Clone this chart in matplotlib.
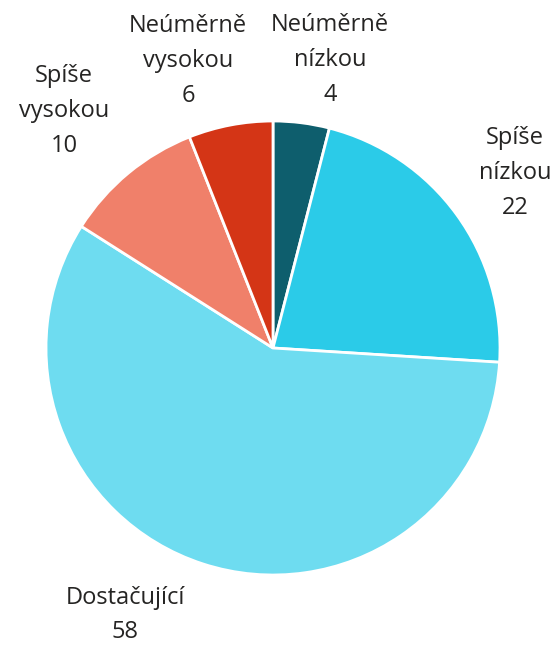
import matplotlib
matplotlib.use("Agg")
import matplotlib.pyplot as plt

categories = ["Neúměrně\nnízkou", "Spíše\nnízkou", "Dostačující", "Spíše\nvysokou", "Neúměrně\nvysokou"]
values = [4, 22, 58, 10, 6]
colors = ["#0e5e6d", "#2bcbe8", "#6edcf0", "#f0806a", "#d43516"]

# label anchor positions in pixels (layout, not data)
label_px = [(330, 60), (515, 173), (125, 615), (64, 111), (188, 61)]

W, H = 559, 645
cx, cy, R = 273, 348, 227

fig = plt.figure(figsize=(W / 100, H / 100), dpi=100)
ax = fig.add_axes([0, 0, 1, 1])
ax.pie(values, colors=colors, startangle=90, counterclock=False, radius=1.0,
       wedgeprops=dict(edgecolor="white", linewidth=2))
ax.set_xlim(-cx / R, (W - cx) / R)
ax.set_ylim((cy - H) / R, cy / R)
ax.set_aspect("equal")
ax.axis("off")

for cat, val, (px, py) in zip(categories, values, label_px):
    ax.text((px - cx) / R, (cy - py) / R, f"{cat}\n{val}", ha="center", va="center",
            fontsize=17, color="#252423", family=["Open Sans", "DejaVu Sans"],
            linespacing=1.6)

fig.savefig("out.png", dpi=100)
